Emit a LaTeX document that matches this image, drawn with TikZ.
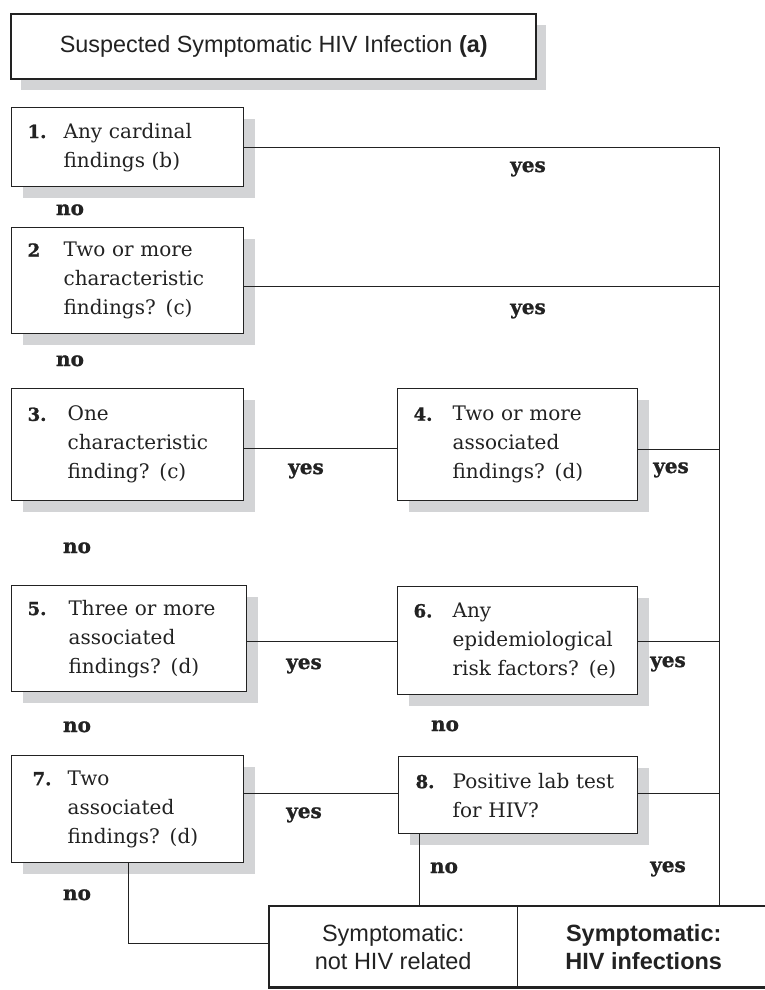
\documentclass[tikz,border=0pt]{standalone}
\usepackage{fontspec}
\setmainfont{Liberation Sans}
\newfontfamily\boxfont{DejaVu Serif}
\newfontfamily\heavyfont{DejaVu Serif Bold}[FakeBold=1.2]
\usetikzlibrary{shadows}
\definecolor{shadowgray}{HTML}{D3D4D6}
\definecolor{ink}{HTML}{222222}
\newcommand\numfont{\heavyfont\bfseries\fontsize{18}{18}\selectfont}
\newcommand\numat[3]{\noindent\makebox[#3pt][l]{\hspace*{#1pt}{\numfont #2}}}
\newcommand\ind[1]{\hspace*{#1pt}}
\begin{document}
\begin{tikzpicture}[x=1pt,y=-1pt,
  shade/.style={drop shadow={shadow xshift=11pt, shadow yshift=-11pt, fill=shadowgray, opacity=1}},
  stepbox/.style={draw=ink, line width=1.3pt, fill=white, anchor=north west,
    inner xsep=6pt, inner ysep=0pt, align=left, text=ink,
    font=\boxfont\fontsize{20}{29}\selectfont, shade},
  headbox/.style={draw=ink, line width=2.4pt, fill=white, anchor=north west,
    font=\fontsize{23.4}{28}\selectfont, text=ink,
    drop shadow={shadow xshift=10pt, shadow yshift=-11pt, fill=shadowgray, opacity=1}},
  endbox/.style={anchor=north west, inner sep=0pt, align=center, text=ink,
    font=\fontsize{23.5}{28}\selectfont},
  lbl/.style={anchor=base, inner sep=0pt, text=ink, font=\heavyfont\bfseries\fontsize{20}{20}\selectfont},
  conn/.style={draw=ink, line width=1pt}
]
\useasboundingbox (0,0) rectangle (765,990);

% header
\node[headbox, minimum width=525pt, minimum height=65pt] (head) at (10,13)
  {Suspected Symptomatic HIV Infection \textbf{(a)}};

% steps
\node[stepbox, text width=220pt, minimum height=79pt] (b1) at (11,107)
  {\numat{10}{1.}{46}Any cardinal\\\ind{46}findings (b)};
\node[stepbox, text width=220pt, minimum height=106pt] (b2) at (11,227)
  {\numat{10}{2}{46}Two or more\\\ind{46}characteristic\\\ind{46}findings? (c)};
\node[stepbox, text width=220pt, minimum height=112pt] (b3) at (11,388)
  {\numat{10}{3.}{50}One\\\ind{50}characteristic\\\ind{50}finding? (c)};
\node[stepbox, text width=228pt, minimum height=112pt] (b4) at (397,388)
  {\numat{10}{4.}{49}Two or more\\\ind{49}associated\\\ind{49}findings? (d)};
\node[stepbox, text width=223pt, minimum height=106pt] (b5) at (11,585)
  {\numat{10}{5.}{51}Three or more\\\ind{51}associated\\\ind{51}findings? (d)};
\node[stepbox, text width=228pt, minimum height=108pt] (b6) at (397,586)
  {\numat{10}{6.}{49}Any\\\ind{49}epidemiological\\\ind{49}risk factors? (e)};
\node[stepbox, text width=220pt, minimum height=107pt] (b7) at (11,755)
  {\numat{15}{7.}{50}Two\\\ind{50}associated\\\ind{50}findings? (d)};
\node[stepbox, text width=227pt, minimum height=77pt] (b8) at (398,756)
  {\numat{11}{8.}{48}Positive lab test\\\ind{48}for HIV?};

% outcome boxes
\node[endbox, minimum width=248pt, minimum height=81pt] (bl) at (269,906)
  {Symptomatic:\\not HIV related};
\node[endbox, minimum width=253pt, minimum height=81pt] (br) at (517,906)
  {\bfseries Symptomatic:\\\bfseries HIV infections};
\draw[draw=ink, line width=2.4pt] (bl.north west) rectangle (br.south east);
\draw[conn, line width=1.3pt] (bl.north east) -- (bl.south east);

% connectors
\coordinate (rb) at (719,906);
\draw[conn] (b1.east) -| (rb);
\coordinate (c2) at ([yshift=-6pt]b2.east);
\draw[conn] (c2) -- (c2 -| rb);
\coordinate (c3) at ([yshift=-4pt]b3.east);
\draw[conn] (c3) -- (c3 -| b4.west);
\coordinate (c4) at ([yshift=-5pt]b4.east);
\draw[conn] (c4) -- (c4 -| rb);
\coordinate (c5) at ([yshift=-3pt]b5.east);
\draw[conn] (c5) -- (c5 -| b6.west);
\coordinate (c6) at ([yshift=-1pt]b6.east);
\draw[conn] (c6) -- (c6 -| rb);
\coordinate (c7) at ([yshift=15.5pt]b7.east);
\draw[conn] (c7) -- (c7 -| b8.west);
\coordinate (c8) at ([yshift=1.5pt]b8.east);
\draw[conn] (c8) -- (c8 -| rb);
\coordinate (c7d) at ([xshift=1pt]b7.south);
\draw[conn] (c7d) |- ([yshift=3.5pt]bl.west);
\coordinate (c8d) at ([xshift=21pt]b8.south west);
\draw[conn] (c8d) -- (c8d |- bl.north);

% labels
\node[lbl] (y1) at (528,172) {yes};
\node[lbl] (y2) at (528,314) {yes};
\node[lbl] (y3) at (306,474) {yes};
\node[lbl] (y4) at (671,473) {yes};
\node[lbl] (y5) at (304,669) {yes};
\node[lbl] (y6) at (668,667) {yes};
\node[lbl] (y7) at (304,818) {yes};
\node[lbl] (y8) at (668,872) {yes};
\node[lbl] (n1) at (70,215) {no};
\node[lbl] (n2) at (70,366) {no};
\node[lbl] (n3) at (77,553) {no};
\node[lbl] (n4) at (77,732) {no};
\node[lbl] (n5) at (77,900) {no};
\node[lbl] (n6) at (445,731) {no};
\node[lbl] (n7) at (444,873) {no};
\end{tikzpicture}
\end{document}
